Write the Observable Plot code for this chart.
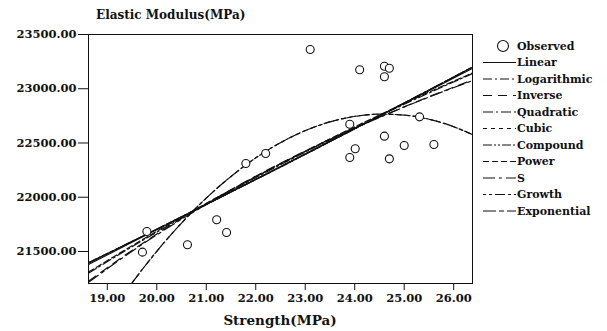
<!DOCTYPE html>
<html>
<head>
<meta charset="utf-8">
<script src="https://cdn.jsdelivr.net/npm/d3@7"></script>
<script src="https://cdn.jsdelivr.net/npm/@observablehq/plot@0.6"></script>
<style>
  html, body { margin: 0; padding: 0; background: #fff; }
  #chart { position: relative; width: 607px; height: 331px; }
</style>
</head>
<body>
<div id="chart"></div>
<script>
// Observed data (Strength MPa, Elastic Modulus MPa)
const obsStrength = [19.80, 19.71, 20.62, 21.21, 21.41, 21.80, 22.20, 23.10, 24.10, 24.60, 24.70, 24.60, 23.90, 25.31, 24.60, 24.01, 23.90, 24.70, 25.00, 25.60];
const obsModulus  = [21684, 21494, 21562, 21792, 21675, 22311, 22403, 23362, 23175, 23208, 23189, 23110, 22673, 22741, 22563, 22447, 22366, 22354, 22477, 22486];

// Fitted curves
const fitX = [18.62, 19.5, 20.5, 21.5, 22.5, 23.5, 24.5, 25.5, 26.38];
const linearY      = [21380, 21585, 21818, 22051, 22284, 22517, 22750, 22983, 23188];
const logarithmicY = [21300, 21544, 21808, 22060, 22300, 22530, 22750, 22961, 23140];
const inverseY     = [21225, 21510, 21804, 22070, 22313, 22535, 22738, 22926, 23080];
const powerY       = [21310, 21553, 21817, 22068, 22308, 22538, 22758, 22969, 23145];
const sY           = [21215, 21502, 21797, 22064, 22308, 22531, 22735, 22923, 23075];
const compoundY    = [21395, 21593, 21819, 22048, 22279, 22513, 22750, 22988, 23200];
const growthY      = [21395, 21593, 21819, 22048, 22279, 22513, 22750, 22988, 23200];
const exponentialY = [21395, 21593, 21819, 22048, 22279, 22513, 22750, 22988, 23200];

const quadX = [19.3, 19.49, 20.0, 20.5, 21.0, 21.5, 22.0, 22.5, 23.0, 23.5, 24.0, 24.5, 25.0, 25.5, 26.0, 26.38];
const quadraticY = [21087, 21205, 21502, 21762, 21992, 22192, 22363, 22503, 22614, 22695, 22745, 22766, 22757, 22719, 22650, 22577];
const cubicY     = [21087, 21205, 21502, 21762, 21992, 22192, 22363, 22503, 22614, 22695, 22745, 22766, 22757, 22719, 22650, 22577];

const xTicks = [19, 20, 21, 22, 23, 24, 25, 26];
const yTicks = [21500, 22000, 22500, 23000, 23500];

const legendNames = ["Linear", "Logarithmic", "Inverse", "Quadratic", "Cubic", "Compound", "Power", "S", "Growth", "Exponential"];
const dashes = {
  Linear: null,
  Logarithmic: "9,3,2,3",
  Inverse: "9,6",
  Quadratic: "10,3,2,3",
  Cubic: "4,4",
  Compound: "9,2,2,2,2,2",
  Power: "6,3",
  S: "12,4,3,4",
  Growth: "3,3,3,3,10,3",
  Exponential: "13,3,5,3"
};

const curveSeries = [
  ["Linear", fitX, linearY],
  ["Logarithmic", fitX, logarithmicY],
  ["Inverse", fitX, inverseY],
  ["Quadratic", quadX, quadraticY],
  ["Cubic", quadX, cubicY],
  ["Compound", fitX, compoundY],
  ["Power", fitX, powerY],
  ["S", fitX, sY],
  ["Growth", fitX, growthY],
  ["Exponential", fitX, exponentialY]
];

const obs = obsStrength.map((x, i) => ({x, y: obsModulus[i]}));

const lineMarks = curveSeries.map(([name, xs, ys]) =>
  Plot.line(xs.map((x, i) => ({x, y: ys[i]})), {
    x: "x", y: "y", curve: "monotone-x", stroke: "#111", strokeWidth: 1.2,
    strokeDasharray: dashes[name], clip: true
  })
);

const fmt = d3.format(".2f");
const font = "'DejaVu Serif', 'Liberation Serif', serif";

const chart = Plot.plot({
  width: 607, height: 331,
  marginLeft: 88, marginRight: 135, marginTop: 34, marginBottom: 48,
  style: {fontFamily: font, fontWeight: "bold", fontSize: "11.5px", background: "#fff", color: "#111"},
  x: {domain: [18.62, 26.38]},
  y: {domain: [21205, 23500]},
  marks: [
    ...lineMarks,
    Plot.dot(obs, {x: "x", y: "y", r: 4, stroke: "#111", fill: "#fff", strokeWidth: 1.1}),
    Plot.frame({stroke: "#111", strokeWidth: 1}),
    Plot.axisX({ticks: xTicks, tickFormat: fmt, tickSize: 7, tickPadding: 3, fontSize: 11.5, fontWeight: "bold", label: null}),
    Plot.axisY({ticks: yTicks, tickFormat: fmt, tickSize: 10, tickPadding: 2, fontSize: 11.5, fontWeight: "bold", label: null})
  ]
});

document.getElementById("chart").appendChild(chart);

// Title, axis label and legend
const svg = d3.select(chart);
svg.append("text")
  .attr("x", 96).attr("y", 19)
  .attr("text-anchor", "start")
  .attr("font-family", font).attr("font-weight", "bold").attr("font-size", 12)
  .attr("fill", "#111")
  .text("Elastic Modulus(MPa)");

svg.append("text")
  .attr("x", 280).attr("y", 325)
  .attr("text-anchor", "middle")
  .attr("font-family", font).attr("font-weight", "bold").attr("font-size", 13.5)
  .attr("fill", "#111")
  .text("Strength(MPa)");

const lg = svg.append("g").attr("text-anchor", "start").attr("font-family", font).attr("font-weight", "bold").attr("font-size", 11).attr("fill", "#111");
const rowY0 = 46, rowStep = 16.5;
lg.append("circle").attr("cx", 503).attr("cy", rowY0).attr("r", 5.5).attr("fill", "none").attr("stroke", "#111").attr("stroke-width", 1.1);
lg.append("text").attr("x", 517).attr("y", rowY0).attr("dy", "0.35em").text("Observed");
legendNames.forEach((name, i) => {
  const y = rowY0 + rowStep * (i + 1);
  lg.append("line").attr("x1", 483).attr("x2", 516).attr("y1", y).attr("y2", y)
    .attr("stroke", "#111").attr("stroke-width", 1.2)
    .attr("stroke-dasharray", dashes[name]);
  lg.append("text").attr("x", 517).attr("y", y).attr("dy", "0.35em").text(name);
});
</script>
</body>
</html>
